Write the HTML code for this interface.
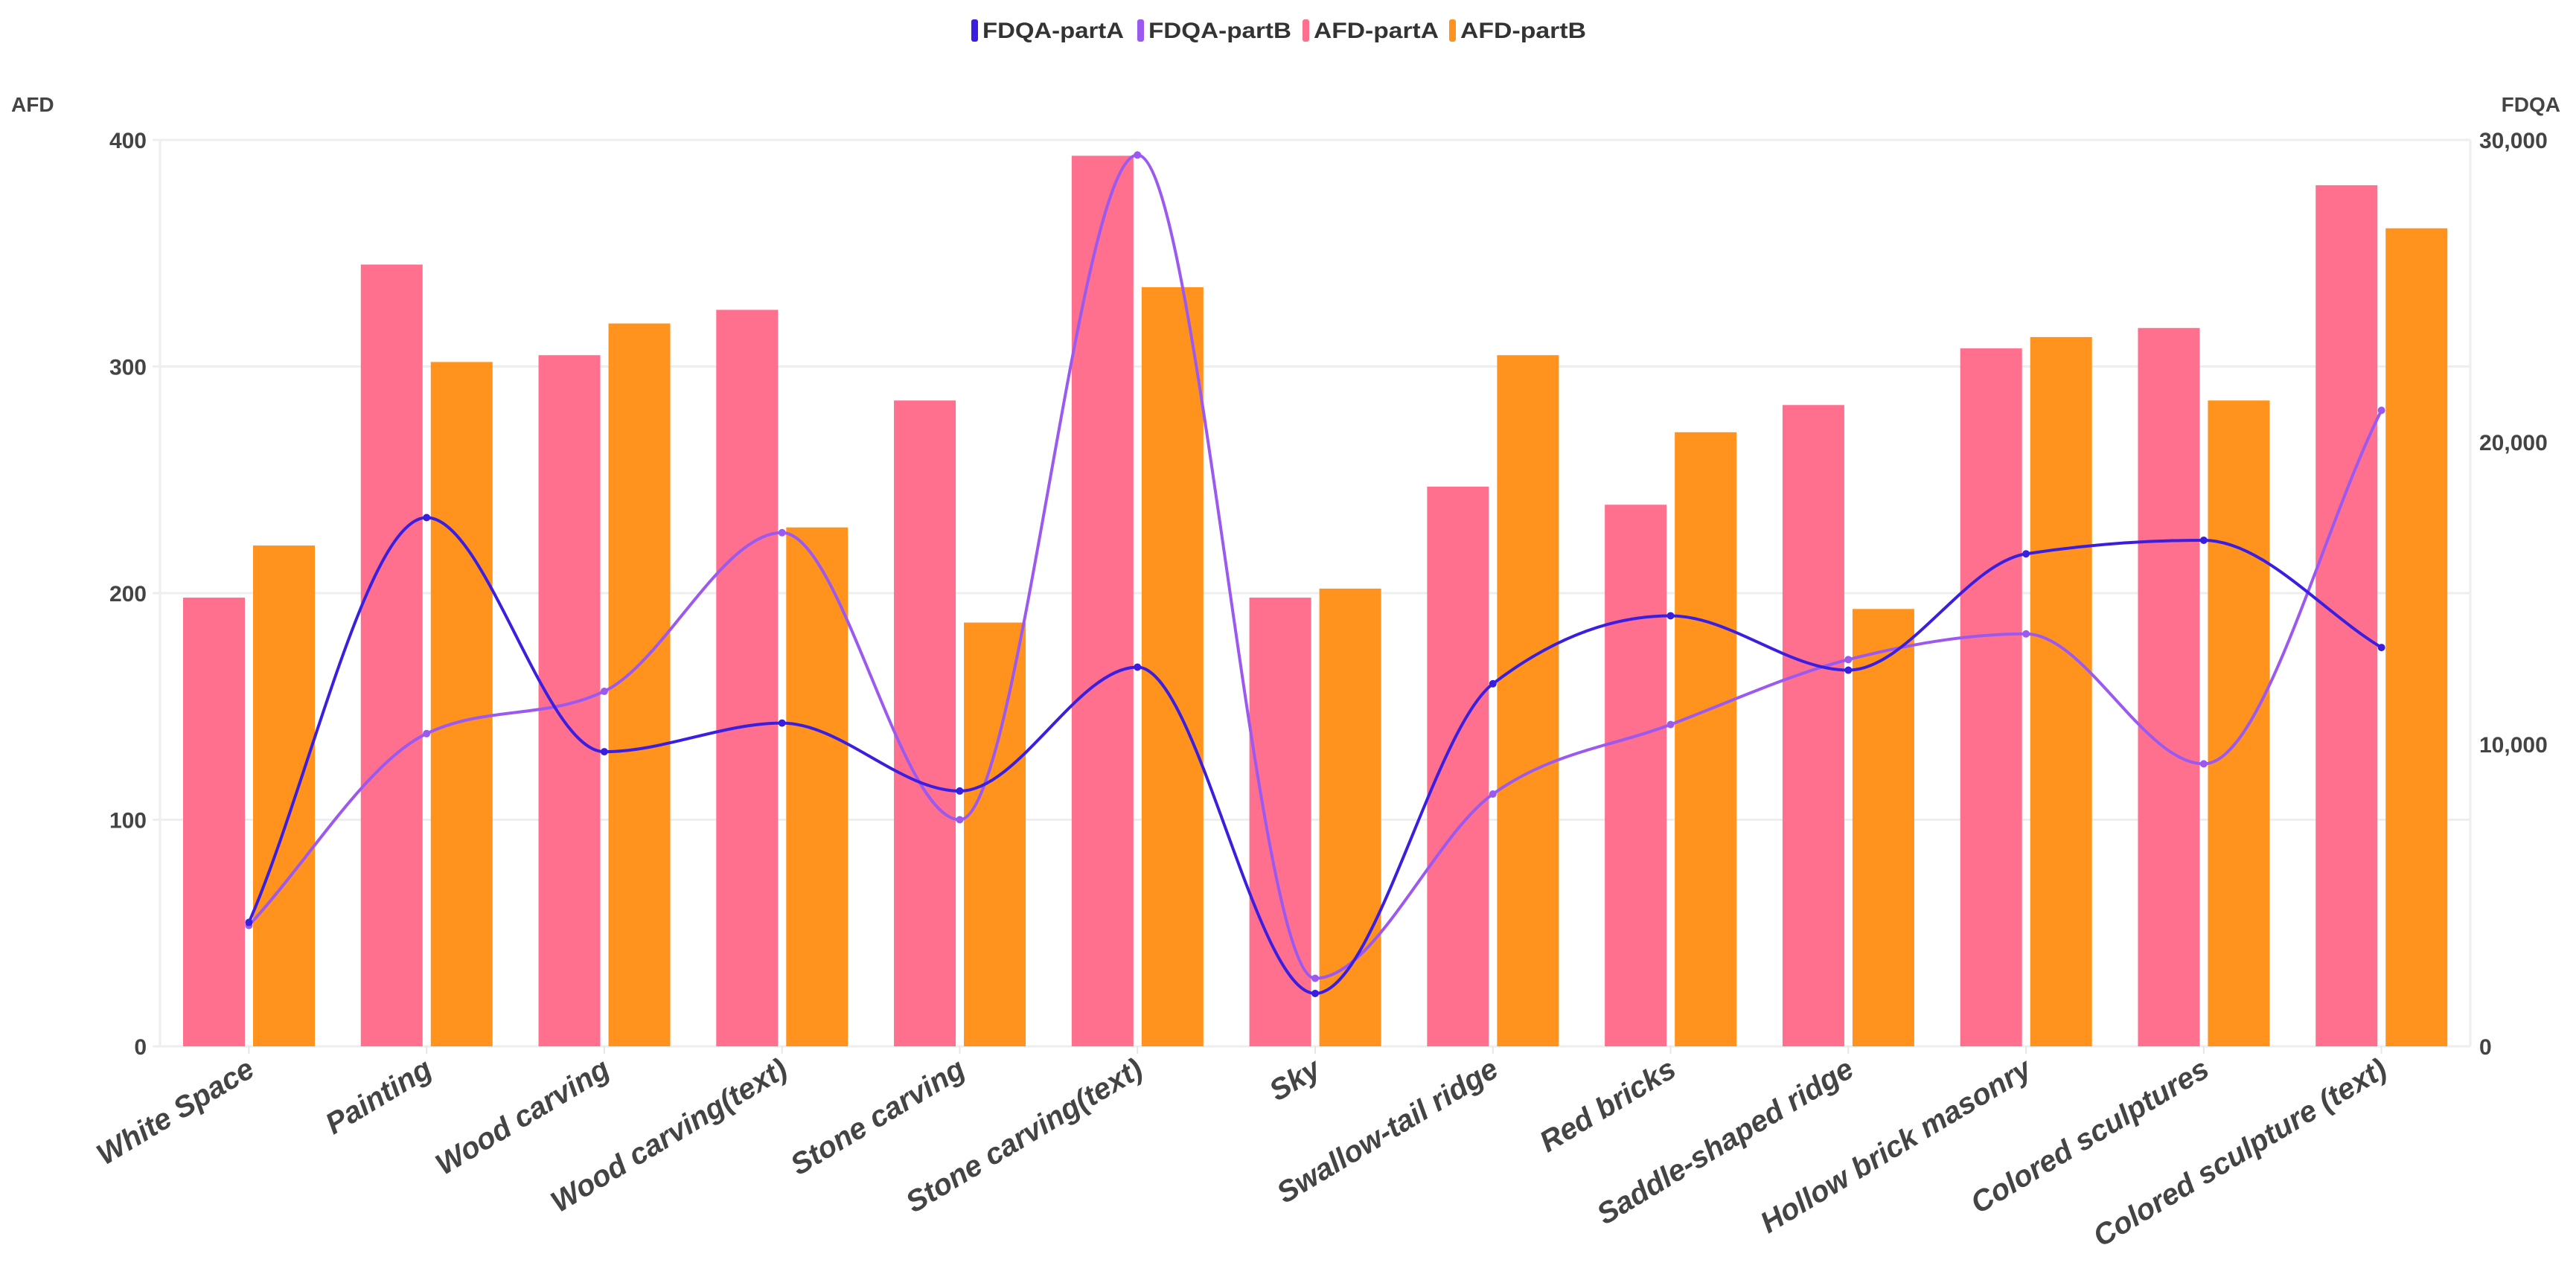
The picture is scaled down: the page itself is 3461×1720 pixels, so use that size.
<!DOCTYPE html>
<html><head><meta charset="utf-8"><style>
html,body{margin:0;padding:0;background:#fff;}
svg{display:block;font-family:"Liberation Sans",sans-serif;}
</style></head><body>
<svg id="chart" width="3461" height="1720" viewBox="0 0 3461 1720" xmlns="http://www.w3.org/2000/svg">
<g id="legend" font-size="30" font-weight="bold" fill="#333">
  <g><rect x="1305" y="26" width="9" height="30" rx="3" fill="#3a1fe0"/><text x="1320" y="51" textLength="190" lengthAdjust="spacingAndGlyphs">FDQA-partA</text></g>
  <g><rect x="1528" y="26" width="9" height="30" rx="3" fill="#9b59f0"/><text x="1543" y="51" textLength="192" lengthAdjust="spacingAndGlyphs">FDQA-partB</text></g>
  <g><rect x="1750" y="26" width="9" height="30" rx="3" fill="#ff6f8e"/><text x="1765" y="51" textLength="168" lengthAdjust="spacingAndGlyphs">AFD-partA</text></g>
  <g><rect x="1947" y="26" width="9" height="30" rx="3" fill="#ff931e"/><text x="1962" y="51" textLength="169" lengthAdjust="spacingAndGlyphs">AFD-partB</text></g>
</g>
<text x="15" y="150" font-size="28" font-weight="bold" fill="#444">AFD</text>
<text x="3440" y="150" font-size="28" font-weight="bold" fill="#444" text-anchor="end">FDQA</text>
<g id="grid"></g>
<g id="bars"></g>
<g id="lines"></g>
<g id="xlabels"></g>
</svg>
<script>
const categories=["White Space","Painting","Wood carving","Wood carving(text)","Stone carving","Stone carving(text)","Sky","Swallow-tail ridge","Red bricks","Saddle-shaped ridge","Hollow brick masonry","Colored sculptures","Colored sculpture (text)"];
const afdPartA=[198,345,305,325,285,393,198,247,239,283,308,317,380];
const afdPartB=[221,302,319,229,187,335,202,305,271,193,313,285,361];
const fdqaPartA=[4100,17500,9750,10700,8450,12550,1750,12000,14250,12450,16300,16750,13200];
const fdqaPartB=[4000,10350,11750,17000,7500,29500,2250,8350,10650,12800,13650,9350,21050];
const leftTicks=[0,100,200,300,400];
const rightTicks=[0,10000,20000,30000];
const rightTickLabels=["0","10,000","20,000","30,000"];

const NS="http://www.w3.org/2000/svg";
const X0=215,X1=3319,Y0=1406,Ytop=188;
const bw=(X1-X0)/categories.length;
const yL=v=>Y0-(v/400)*(Y0-Ytop);
const yR=v=>Y0-(v/30000)*(Y0-Ytop);
const xC=i=>X0+bw*(i+0.5);
function mk(tag,attrs,parent){const e=document.createElementNS(NS,tag);for(const k in attrs)e.setAttribute(k,attrs[k]);parent.appendChild(e);return e;}
const grid=document.getElementById('grid'),bars=document.getElementById('bars'),lines=document.getElementById('lines'),xl=document.getElementById('xlabels');
leftTicks.forEach(t=>{
  const l=mk('line',{x1:X0-10,x2:X1,y1:yL(t),y2:yL(t),stroke:'#eeeeee','stroke-width':3},grid);
  
  
  const tx=mk('text',{x:X0-18,y:yL(t)+11,'font-size':30,'font-weight':'bold',fill:'#444','text-anchor':'end'},grid);
  tx.textContent=t;
  
  
});
rightTicks.forEach((t,i)=>{
  const tx=mk('text',{x:X1+12,y:yR(t)+11,'font-size':30,'font-weight':'bold',fill:'#444'},grid);
  tx.textContent=rightTickLabels[i];
  
  
});
const ax=mk('line',{x1:X0,x2:X0,y1:Ytop,y2:Y0,stroke:'#eeeeee','stroke-width':3},grid);


const ax2=mk('line',{x1:X1,x2:X1,y1:Ytop,y2:Y0,stroke:'#eeeeee','stroke-width':3},grid);


categories.forEach((c,i)=>{
  const s=X0+bw*i;
  const a=mk('rect',{x:s+31,y:yL(afdPartA[i]),width:83,height:Y0-yL(afdPartA[i]),fill:'#ff6f8e'},bars);
  
  
  const b=mk('rect',{x:s+125,y:yL(afdPartB[i]),width:83,height:Y0-yL(afdPartB[i]),fill:'#ff931e'},bars);
  
  
  const tk=mk('line',{x1:xC(i),x2:xC(i),y1:Y0,y2:Y0+10,stroke:'#e6e6e6','stroke-width':2},grid);
  
  
  const lx=xC(i)+10,ly=Y0+38;
  const t=mk('text',{x:lx,y:ly,'font-size':40,'font-weight':'bold','font-style':'italic',fill:'#444','text-anchor':'end',transform:`rotate(-31 ${lx} ${ly})`},xl);
  t.textContent=c;
  
  
});
function monotone(pts){
  const n=pts.length,dx=[],sl=[],m=[];
  for(let i=0;i<n-1;i++){dx[i]=pts[i+1][0]-pts[i][0];sl[i]=(pts[i+1][1]-pts[i][1])/dx[i];}
  for(let i=0;i<n;i++){
    if(i===0)m[i]=sl[0];else if(i===n-1)m[i]=sl[n-2];
    else{const a=sl[i-1],b=sl[i];if(a*b<=0)m[i]=0;else{const h0=dx[i-1],h1=dx[i];const p=(a*h1+b*h0)/(h0+h1);m[i]=(Math.sign(a)+Math.sign(b))*Math.min(Math.abs(a),Math.abs(b),0.5*Math.abs(p));}}
  }
  let d=`M${pts[0][0]},${pts[0][1]}`;
  for(let i=0;i<n-1;i++){
    const h=dx[i]/3;
    d+=` C${pts[i][0]+h},${pts[i][1]+m[i]*h} ${pts[i+1][0]-h},${pts[i+1][1]-m[i+1]*h} ${pts[i+1][0]},${pts[i+1][1]}`;
  }
  return d;
}
[[fdqaPartB,'#9b59f0','fdqa-partb'],[fdqaPartA,'#3a1fe0','fdqa-parta']].forEach(([arr,col,nm])=>{
  const pts=arr.map((v,i)=>[xC(i),yR(v)]);
  const p=mk('path',{d:monotone(pts),fill:'none',stroke:col,'stroke-width':4},lines);
  
  
  pts.forEach(q=>{
    const c=mk('circle',{cx:q[0],cy:q[1],r:5,fill:col},lines);
    
    
  });
});
</script>
</body></html>
